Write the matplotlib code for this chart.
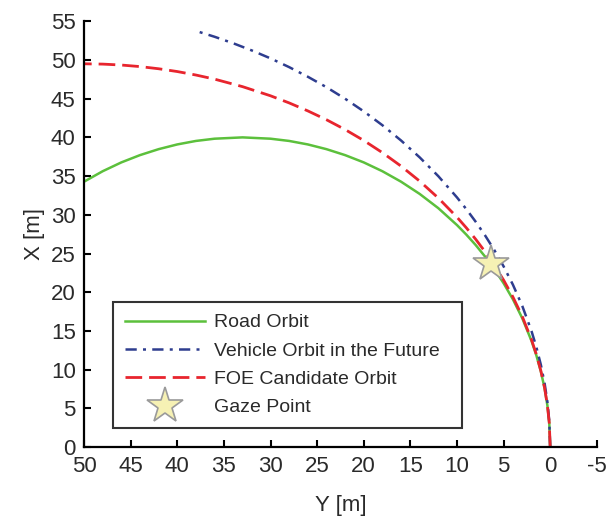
import matplotlib
matplotlib.use("Agg")
import matplotlib.pyplot as plt
from matplotlib.lines import Line2D

plt.rcParams['font.family'] = ['Liberation Sans', 'DejaVu Sans']
plt.rcParams['axes.unicode_minus'] = False

# curves: Y [m] (horizontal) and X [m] (vertical)
road_y = [0, 0.1, 0.3, 0.6, 1, 1.5, 2, 3, 4, 5, 6, 7, 8, 9, 10, 12, 14, 16, 18, 20, 22, 24, 26, 28, 30, 33, 36, 38, 40, 42, 44, 46, 48, 50]
road_x = [0, 3.11, 5.38, 7.59, 9.77, 11.92, 13.71, 16.66, 19.09, 21.17, 23.00, 24.63, 26.11, 27.45, 28.68, 30.86, 32.70,
          34.28, 35.63, 36.77, 37.71, 38.48, 39.09, 39.54, 39.83, 40.0, 39.83, 39.54, 39.09, 38.48, 37.71, 36.77, 35.63, 34.28]

veh_y = [0, 0.1, 0.3, 0.6, 1, 1.5, 2, 3, 4, 5, 6, 7, 8, 9, 10, 12, 14, 16, 18, 20, 22, 24, 26, 28, 30, 32, 34, 36, 37.8]
veh_x = [0, 3.37, 5.84, 8.25, 10.63, 12.99, 14.97, 18.25, 20.98, 23.35, 25.46, 27.37, 29.12, 30.74, 32.25, 34.99, 37.42,
         39.60, 41.57, 43.36, 44.99, 46.48, 47.83, 49.07, 50.20, 51.22, 52.15, 52.99, 53.67]

foe_y = [0, 0.1, 0.3, 0.6, 1, 1.5, 2, 3, 4, 5, 6, 7, 8, 9, 10, 12, 14, 16, 18, 20, 22, 24, 26, 28, 30, 33, 36, 38, 40, 42, 44, 46, 48, 50]
foe_x = [0, 3.13, 5.41, 7.65, 9.85, 12.03, 13.86, 16.89, 19.40, 21.58, 23.51, 25.26, 26.86, 28.33, 29.70, 32.17, 34.35,
         36.29, 38.03, 39.60, 41.01, 42.28, 43.42, 44.45, 45.37, 46.55, 47.52, 48.05, 48.50, 48.86, 49.14, 49.34, 49.46, 49.5]

gaze_y = [6.3]
gaze_x = [23.6]

xticks = list(range(50, -6, -5))
yticks = list(range(0, 56, 5))

fig = plt.figure(figsize=(6.09, 5.17), dpi=100)
ax = fig.add_axes([0.138, 0.135, 0.842, 0.824])

green = '#5cc03c'
navy = '#2e3d8f'
red = '#e8252e'
dashdot = (0, (4.5, 2.5, 1.2, 2.5))
dashed = (0, (6, 2.5))

ax.plot(road_y, road_x, color=green, lw=1.8)
ax.plot(veh_y, veh_x, color=navy, lw=1.8, linestyle=dashdot)
ax.plot(foe_y, foe_x, color=red, lw=2.0, linestyle=dashed)
ax.plot(gaze_y, gaze_x, marker='*', markersize=27, markerfacecolor='#f6f1b4',
        markeredgecolor='#9a9a9a', markeredgewidth=1.2, linestyle='none')

ax.set_xlim(50, -5)
ax.set_ylim(0, 55)
ax.set_xticks(xticks)
ax.set_yticks(yticks)
ax.spines['top'].set_visible(False)
ax.spines['right'].set_visible(False)
for s in ['left', 'bottom']:
    ax.spines[s].set_linewidth(1.6)
ax.tick_params(direction='in', length=5, width=1.5, labelsize=16,
               labelcolor='#2a2a2a', pad=6)
ax.set_xlabel('Y [m]', fontsize=16, color='#2a2a2a', labelpad=13)
ax.set_ylabel('X [m]', fontsize=16, color='#2a2a2a', labelpad=4)

handles = [
    Line2D([], [], color=green, lw=1.8),
    Line2D([], [], color=navy, lw=1.8, linestyle=dashdot),
    Line2D([], [], color=red, lw=2.0, linestyle=dashed),
    Line2D([], [], marker='*', markersize=27, markerfacecolor='#f6f1b4',
           markeredgecolor='#9a9a9a', markeredgewidth=1.2, linestyle='none'),
]
labels = ['Road Orbit', 'Vehicle Orbit in the Future', 'FOE Candidate Orbit', 'Gaze Point']
leg = ax.legend(handles, labels, loc='lower left', bbox_to_anchor=(0.057, 0.045, 0.68, 0.307),
                mode='expand', fontsize=14, handlelength=4.1, handletextpad=0.5,
                labelspacing=0.55, borderaxespad=0, fancybox=False, framealpha=1,
                borderpad=0.6)
leg.get_frame().set_edgecolor('#333333')
leg.get_frame().set_linewidth(1.5)
for t in leg.get_texts():
    t.set_color('#2a2a2a')

fig.savefig('out.png', dpi=100)
